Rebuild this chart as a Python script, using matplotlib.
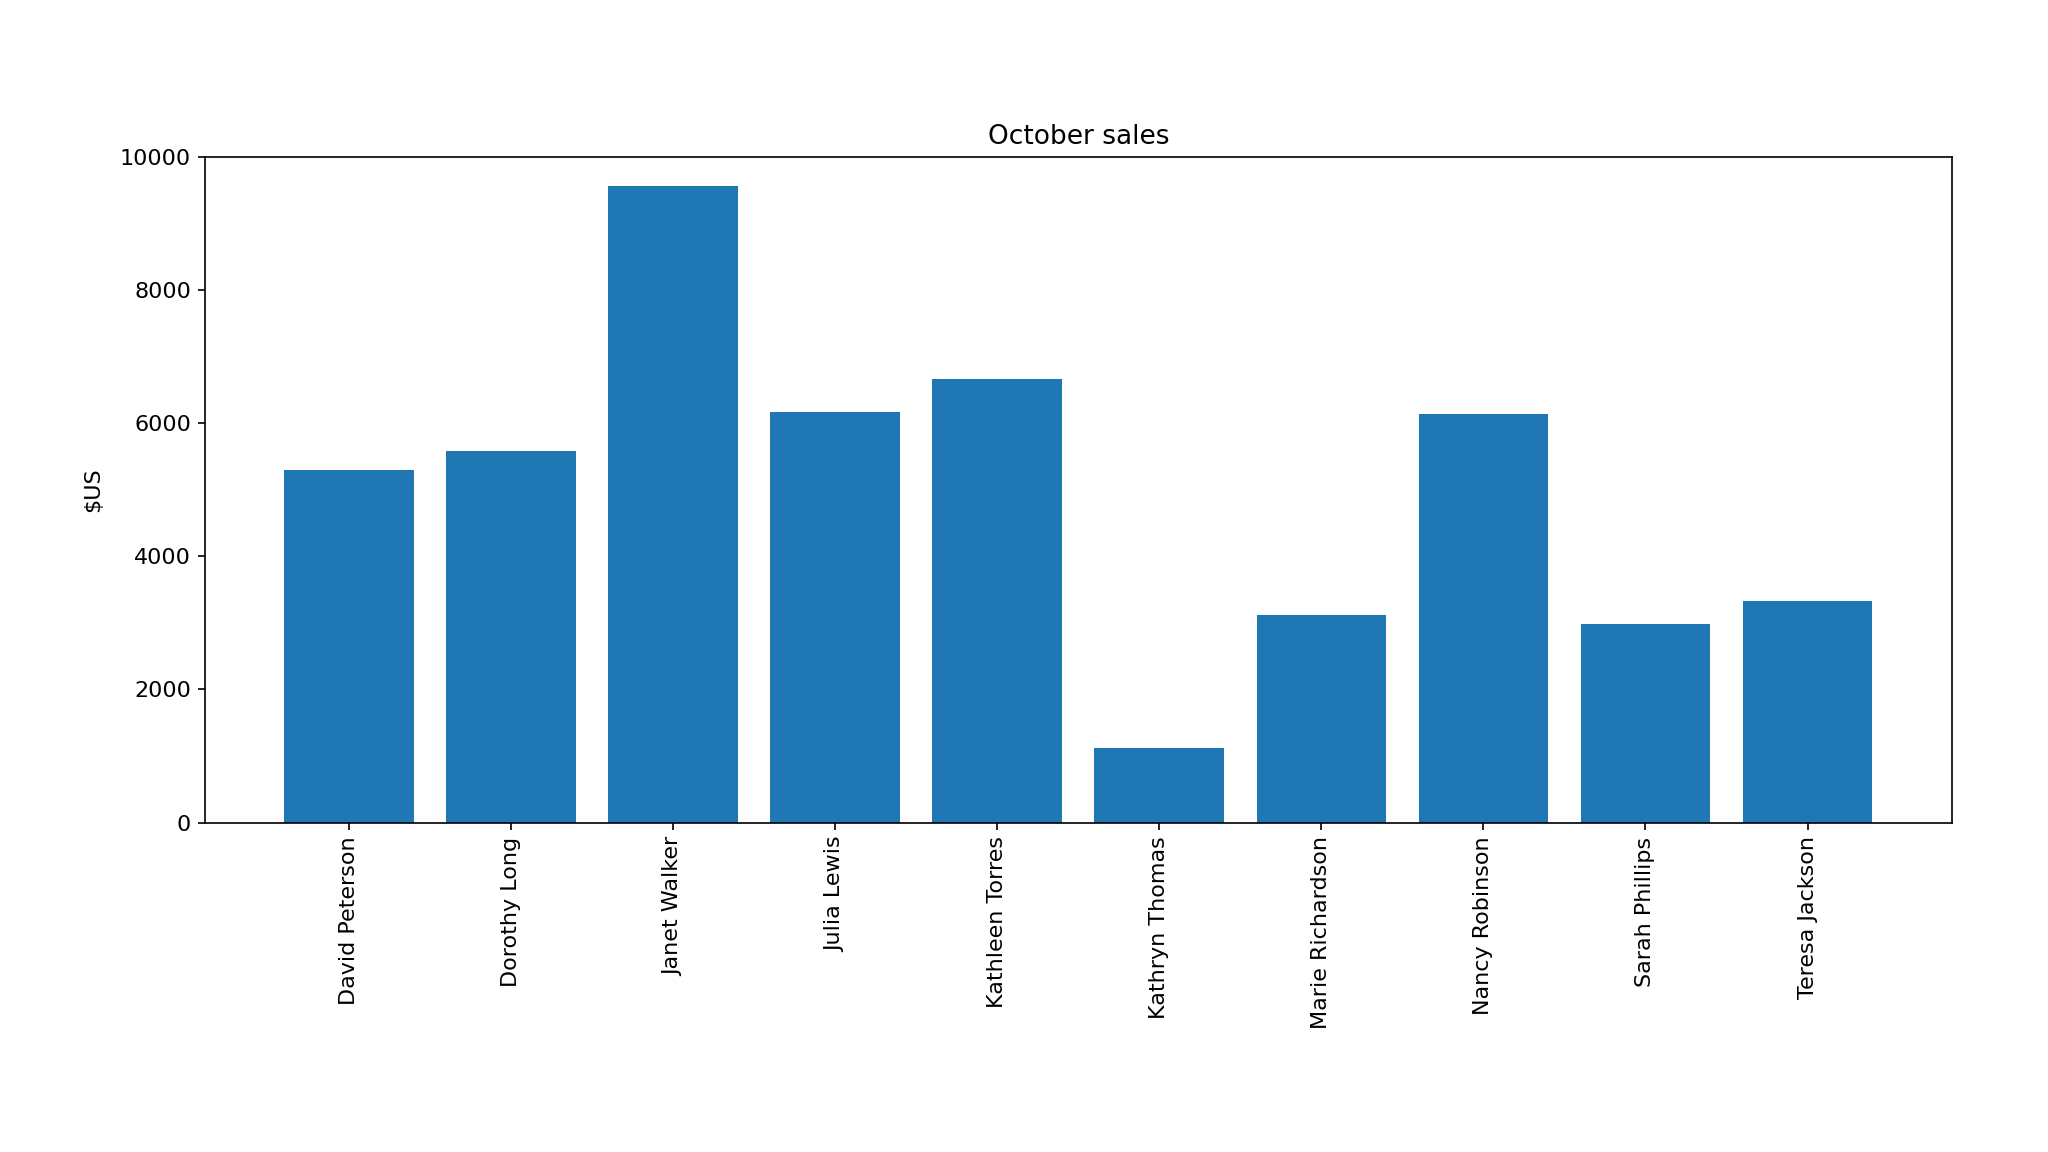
import matplotlib
matplotlib.use('Agg')
import matplotlib.pyplot as plt

# October sales per salesperson
names = ['David Peterson', 'Dorothy Long', 'Janet Walker', 'Julia Lewis',
         'Kathleen Torres', 'Kathryn Thomas', 'Marie Richardson',
         'Nancy Robinson', 'Sarah Phillips', 'Teresa Jackson']
sales = [5290, 5585, 9560, 6165, 6655, 1117, 3122, 6130, 2987, 3323]


def main():
    fig, ax = plt.subplots(figsize=(20.48, 11.52), dpi=100)
    fig.subplots_adjust(left=0.100, right=0.953, top=0.864, bottom=0.286)

    ax.bar(names, sales, color='#1f77b4')
    ax.set_ylim(0, 10000)
    ax.set_title('October sales', fontsize=19, pad=9)
    ax.set_ylabel(r'\$US', fontsize=16, labelpad=12)
    ax.tick_params(axis='both', labelsize=16, length=5, width=1.2, pad=5)
    plt.setp(ax.get_xticklabels(), rotation=90)
    for s in ax.spines.values():
        s.set_linewidth(1.2)

    fig.savefig('out.png', dpi=100)


if __name__ == '__main__':
    main()
